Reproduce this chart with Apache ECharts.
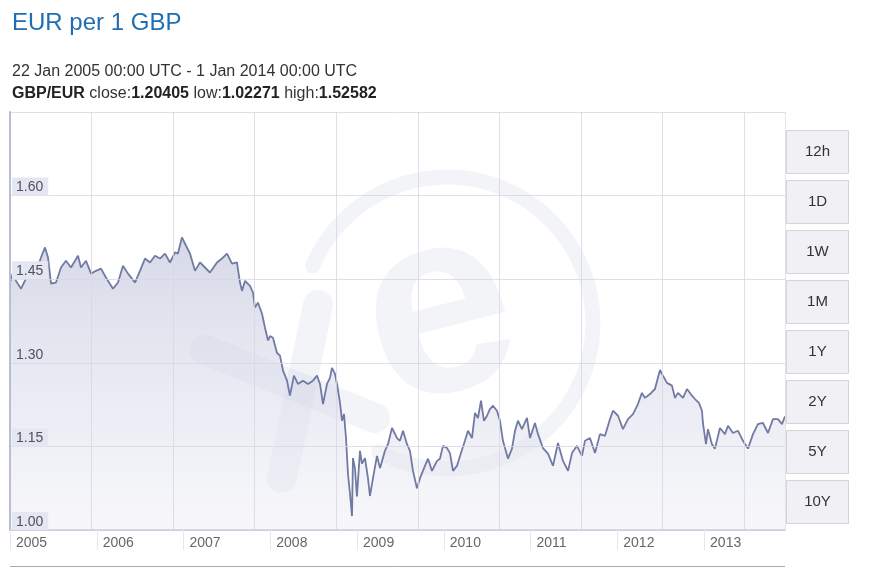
<!DOCTYPE html>
<html>
<head>
<meta charset="utf-8">
<script src="https://cdn.jsdelivr.net/npm/echarts@6/dist/echarts.min.js"></script>
<style>
html,body{margin:0;padding:0;background:#fff;}
#chart{width:880px;height:568px;}
</style>
</head>
<body>
<div id="chart"></div>
<script>
// Dates as decimal years
const dates = [
2005.000,2005.035,2005.069,2005.127,2005.184,2005.288,2005.357,2005.403,2005.438,2005.473,
2005.530,2005.588,2005.645,2005.703,2005.784,2005.818,2005.876,2005.934,2005.991,2006.049,
2006.106,2006.187,2006.245,2006.302,2006.360,2006.441,2006.498,2006.556,2006.614,2006.671,
2006.729,2006.787,2006.844,2006.902,2006.936,2006.982,2007.029,2007.075,2007.132,2007.190,
2007.248,2007.305,2007.386,2007.443,2007.501,2007.559,2007.616,2007.651,2007.674,2007.709,
2007.766,2007.801,2007.824,2007.858,2007.905,2007.939,2007.974,2007.997,2008.031,2008.077,
2008.112,2008.147,2008.193,2008.227,2008.273,2008.319,2008.377,2008.435,2008.492,2008.538,
2008.573,2008.608,2008.654,2008.688,2008.711,2008.746,2008.769,2008.804,2008.827,2008.850,
2008.873,2008.896,2008.919,2008.942,2008.953,2008.976,2008.999,2009.034,2009.057,2009.092,
2009.126,2009.149,2009.184,2009.230,2009.265,2009.322,2009.357,2009.403,2009.461,2009.495,
2009.530,2009.576,2009.610,2009.645,2009.691,2009.726,2009.783,2009.818,2009.864,2009.922,
2009.956,2009.991,2010.037,2010.071,2010.106,2010.152,2010.198,2010.244,2010.279,2010.325,
2010.360,2010.394,2010.429,2010.463,2010.498,2010.532,2010.567,2010.613,2010.648,2010.682,
2010.740,2010.786,2010.821,2010.855,2010.901,2010.959,2010.994,2011.051,2011.086,2011.143,
2011.201,2011.259,2011.316,2011.374,2011.432,2011.478,2011.535,2011.593,2011.627,2011.685,
2011.743,2011.800,2011.858,2011.916,2011.950,2012.008,2012.065,2012.123,2012.181,2012.238,
2012.284,2012.319,2012.377,2012.434,2012.492,2012.526,2012.573,2012.630,2012.665,2012.699,
2012.757,2012.803,2012.861,2012.895,2012.941,2012.976,2012.987,2013.022,2013.045,2013.091,
2013.126,2013.183,2013.241,2013.276,2013.333,2013.391,2013.449,2013.506,2013.564,2013.621,
2013.679,2013.737,2013.794,2013.852,2013.898,2013.933
];
// EUR per 1 GBP
const rates = [
1.444,1.462,1.447,1.433,1.451,1.456,1.489,1.507,1.489,1.442,
1.444,1.471,1.483,1.471,1.492,1.471,1.483,1.460,1.465,1.469,
1.453,1.433,1.444,1.474,1.460,1.444,1.465,1.487,1.480,1.492,
1.487,1.496,1.480,1.498,1.496,1.525,1.510,1.496,1.465,1.480,
1.471,1.462,1.480,1.487,1.496,1.478,1.480,1.444,1.429,1.447,
1.438,1.426,1.399,1.408,1.388,1.363,1.340,1.348,1.345,1.318,
1.313,1.286,1.268,1.241,1.277,1.262,1.268,1.262,1.268,1.277,
1.262,1.226,1.262,1.273,1.291,1.280,1.262,1.228,1.196,1.208,
1.165,1.100,1.065,1.025,1.129,1.111,1.060,1.142,1.119,1.129,
1.093,1.061,1.093,1.133,1.111,1.142,1.154,1.183,1.165,1.160,
1.178,1.154,1.142,1.106,1.075,1.093,1.115,1.128,1.106,1.124,
1.128,1.151,1.147,1.138,1.106,1.115,1.138,1.160,1.178,1.165,
1.210,1.201,1.232,1.196,1.205,1.217,1.223,1.214,1.196,1.160,
1.128,1.146,1.178,1.196,1.181,1.201,1.165,1.192,1.172,1.147,
1.137,1.115,1.156,1.124,1.106,1.138,1.151,1.133,1.160,1.165,
1.138,1.172,1.169,1.199,1.214,1.205,1.181,1.199,1.208,1.226,
1.246,1.237,1.244,1.253,1.287,1.277,1.264,1.259,1.237,1.246,
1.237,1.253,1.241,1.235,1.228,1.214,1.192,1.154,1.181,1.154,
1.146,1.183,1.172,1.187,1.174,1.178,1.160,1.146,1.172,1.190,
1.192,1.174,1.199,1.199,1.190,1.204
];
const yTicks = [1.00, 1.15, 1.30, 1.45, 1.60];
const yearLabels = ['2005','2006','2007','2008','2009','2010','2011','2012','2013'];
const rangeButtons = ['12h','1D','1W','1M','1Y','2Y','5Y','10Y'];

const FONT = 'Arial, "Liberation Sans", Helvetica, sans-serif';
const chart = echarts.init(document.getElementById('chart'));

const seriesData = dates.map((d, i) => [d, rates[i]]);

const buttons = [];
rangeButtons.forEach((t, i) => {
  buttons.push({
    type: 'group', left: 786, top: 130 + i * 50,
    children: [
      { type: 'rect', shape: { x: 0, y: 0, width: 62, height: 43 },
        style: { fill: '#f0f0f5', stroke: '#d2d3db', lineWidth: 1 } },
      { type: 'text', x: 31, y: 21.5,
        style: { text: t, font: '15px ' + FONT, fill: '#333', textAlign: 'center', textVerticalAlign: 'middle' } }
    ]
  });
});

const wmColor = 'rgba(175,180,210,0.15)';

chart.setOption({
  animation: false,
  backgroundColor: '#fff',
  textStyle: { fontFamily: FONT },
  grid: { left: 10, right: 95, top: 112, bottom: 38, containLabel: false },
  xAxis: [{
    type: 'value', min: 2005, max: dates[dates.length - 1], interval: 1,
    position: 'bottom', z: 5,
    axisLine: { show: true, lineStyle: { color: '#c9cbdc', width: 1.5 } },
    axisTick: { show: true, length: 20, lineStyle: { color: '#e6e6ec' } },
    axisLabel: {
      show: true, showMaxLabel: false, align: 'left', verticalAlign: 'top',
      margin: 6, padding: [0, 0, 0, 6], fontSize: 14, color: '#666', fontFamily: FONT,
      formatter: v => {
        const k = Math.round(v);
        return Math.abs(v - k) < 1e-6 ? (yearLabels[k - 2005] || '') : '';
      }
    },
    splitLine: { show: false }
  }, {
    type: 'value', min: 0, max: 9.5, interval: 1, position: 'top', z: 4,
    axisLine: { show: false }, axisTick: { show: false }, axisLabel: { show: false },
    splitLine: { show: true, lineStyle: { color: 'rgba(215,215,225,0.8)', width: 1 } }
  }],
  yAxis: [{
    type: 'value', min: 1.0, max: 1.75, interval: 0.15, position: 'left', z: 5,
    axisLine: { show: true, lineStyle: { color: '#b9bdd8', width: 2 } },
    axisTick: { show: false },
    axisLabel: {
      inside: true, showMaxLabel: false, verticalAlign: 'bottom', margin: 2,
      fontSize: 14, color: '#4e5060', fontFamily: FONT,
      backgroundColor: '#e4e6f1', padding: [3, 5, 1, 4],
      formatter: v => {
        const t = yTicks.find(x => Math.abs(x - v) < 1e-6);
        return t === undefined ? '' : t.toFixed(2);
      }
    },
    splitLine: { show: true, lineStyle: { color: 'rgba(215,215,225,0.8)', width: 1 } }
  }, {
    type: 'value', min: 1.0, max: 1.75, interval: 0.15, position: 'right', z: 5,
    axisLine: { show: true, lineStyle: { color: '#e3e3ea', width: 1 } },
    axisTick: { show: false }, axisLabel: { show: false }, splitLine: { show: false }
  }],
  series: [{
    type: 'line', xAxisIndex: 0, yAxisIndex: 0,
    data: seriesData, showSymbol: false, smooth: false, z: 3,
    lineStyle: { color: '#717aa3', width: 1.8 },
    areaStyle: {
      color: new echarts.graphic.LinearGradient(0, 0, 0, 1, [
        { offset: 0, color: 'rgba(190,194,218,0.9)' },
        { offset: 1, color: 'rgba(236,237,245,0.6)' }
      ])
    }
  }],
  graphic: [
    // watermark
    { type: 'arc', z: 1, silent: true,
      shape: { cx: 447, cy: 323, r: 146, startAngle: Math.PI * 203 / 180, endAngle: Math.PI * 478 / 180, clockwise: true },
      style: { stroke: wmColor, fill: null, lineWidth: 15, lineCap: 'round' } },
    { type: 'text', z: 1, silent: true, x: 440, y: 318, rotation: 0.25,
      style: { text: 'e', font: 'bold 265px ' + FONT, fill: wmColor, textAlign: 'center', textVerticalAlign: 'middle' } },
    { type: 'line', z: 1, silent: true, shape: { x1: 205, y1: 350, x2: 375, y2: 418 },
      style: { stroke: wmColor, lineWidth: 30, lineCap: 'round' } },
    { type: 'line', z: 1, silent: true, shape: { x1: 318, y1: 305, x2: 282, y2: 478 },
      style: { stroke: wmColor, lineWidth: 30, lineCap: 'round' } },
    // header
    { type: 'text', left: 12, top: 11,
      style: { text: 'EUR per 1 GBP', font: '24px ' + FONT, fill: '#1f6db3' } },
    { type: 'text', left: 12, top: 64,
      style: { text: '22 Jan 2005 00:00 UTC - 1 Jan 2014 00:00 UTC', font: '16px ' + FONT, fill: '#333' } },
    { type: 'text', left: 12, top: 86,
      style: {
        text: '{b|GBP/EUR} {n|close:}{b|1.20405} {n|low:}{b|1.02271} {n|high:}{b|1.52582}',
        font: '16px ' + FONT,
        rich: {
          b: { fontWeight: 'bold', fontSize: 16, fill: '#222', fontFamily: FONT, color: '#222' },
          n: { fontSize: 16, fill: '#333', fontFamily: FONT, color: '#333' }
        }
      } },
    // bottom navigator edge
    { type: 'line', shape: { x1: 10, y1: 566.5, x2: 785, y2: 566.5 },
      style: { stroke: '#aaa', lineWidth: 1 } }
  ].concat(buttons)
});
</script>
</body>
</html>
